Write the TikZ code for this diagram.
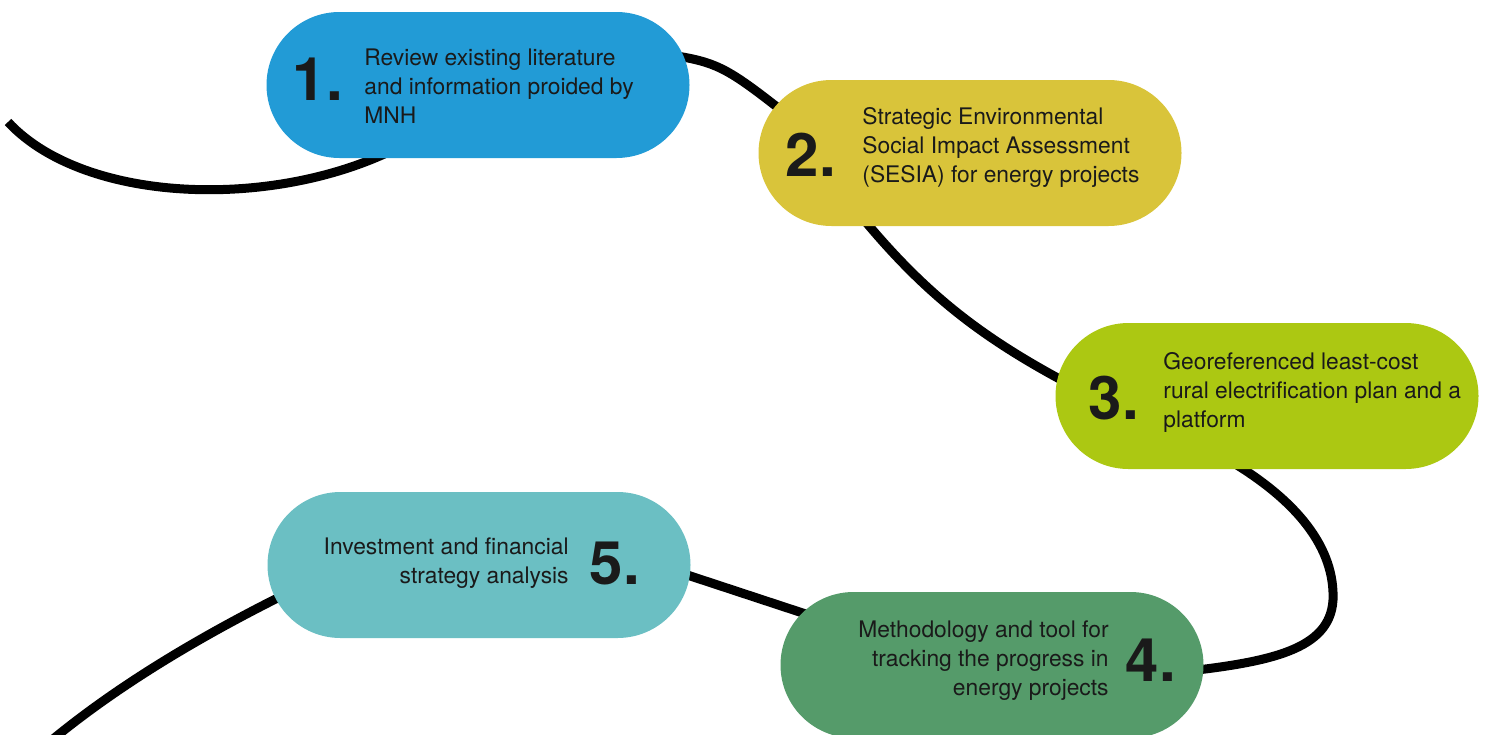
\documentclass[tikz,border=0pt]{standalone}
\usepackage{fontspec}
\setmainfont{TeX Gyre Heros}
\usepackage{tikz}
\usetikzlibrary{calc,positioning,backgrounds}
\definecolor{c1}{RGB}{34,155,214}
\definecolor{c2}{RGB}{217,196,58}
\definecolor{c3}{RGB}{172,200,18}
\definecolor{c4}{RGB}{85,155,106}
\definecolor{c5}{RGB}{107,191,195}
\definecolor{ink}{RGB}{26,26,26}
\begin{document}
\begin{tikzpicture}[x=0.5pt,y=-0.5pt]
\tikzstyle{pill}=[rectangle, rounded corners=36.5pt, minimum width=211.5pt, minimum height=73pt, inner sep=0pt]
\tikzstyle{num}=[font=\fontsize{30}{30}\selectfont\bfseries, text=ink, inner sep=0pt]
\tikzstyle{txt}=[font=\fontsize{11.4}{14.5}\selectfont, text=ink, inner sep=0pt]
\tikzstyle{lnk}=[line width=4.5pt, black]
\useasboundingbox (0,0) rectangle (1488,734);
\clip (0,0) rectangle (1488,734);
\foreach \i/\x/\y/\c in {1/478/85/c1,2/970/153/c2,3/1267/396/c3,4/992/665/c4,5/479/565/c5}{
\node[pill, fill=\c] (p\i) at (\x,\y) {};
}
\node[num] (n1) at (318,79) {1.};
\node[num] (n2) at (811,155) {2.};
\node[num] (n3) at (1114,398) {3.};
\node[num] (n4) at (1151,660) {4.};
\node[num] (n5) at (615,563) {5.};
\node[txt, anchor=west, align=left] (t1) at (364,86) {Review existing literature\\and information proided by\\MNH};
\node[txt, anchor=west, align=left] (t2) at (862,147) {Strategic Environmental\\Social Impact Assessment\\(SESIA) for energy projects};
\node[txt, anchor=west, align=left] (t3) at (1163,392) {Georeferenced least-cost\\rural electrification plan and a\\platform};
\node[txt, anchor=east, align=right] (t4) at (1109,661) {Methodology and tool for\\tracking the progress in\\energy projects};
\node[txt, anchor=east, align=right] (t5) at (569,563) {Investment and financial\\strategy analysis};
\coordinate (c0) at (8,122);
\coordinate (c6) at (40,750);
% the winding line behind the steps
\begin{scope}[on background layer]
\draw[lnk] (c0) .. controls (90,210) and (300,210) .. ($(p1)+(-58,50)$);
\draw[lnk] ($(p1)+(172,-33)$) .. controls (720,62) .. ($(p2)+(-170,-28)$);
\draw[lnk] ($(p2)+(-110,62)$) .. controls (930,300) and (990,345) .. ($(p3)+(-167,4)$);
\draw[lnk] ($(p3)+(-47,59)$) .. controls (1300,500) and (1335,550) .. (1333,600) .. controls (1330,650) and (1270,662) .. ($(p4)+(188,7)$);
\draw[lnk] ($(p4)+(-162,-43)$) -- ($(p5)+(181,1)$);
\draw[lnk] ($(p5)+(-169,17)$) .. controls (200,635) and (110,690) .. (c6);
\end{scope}
\end{tikzpicture}
\end{document}
